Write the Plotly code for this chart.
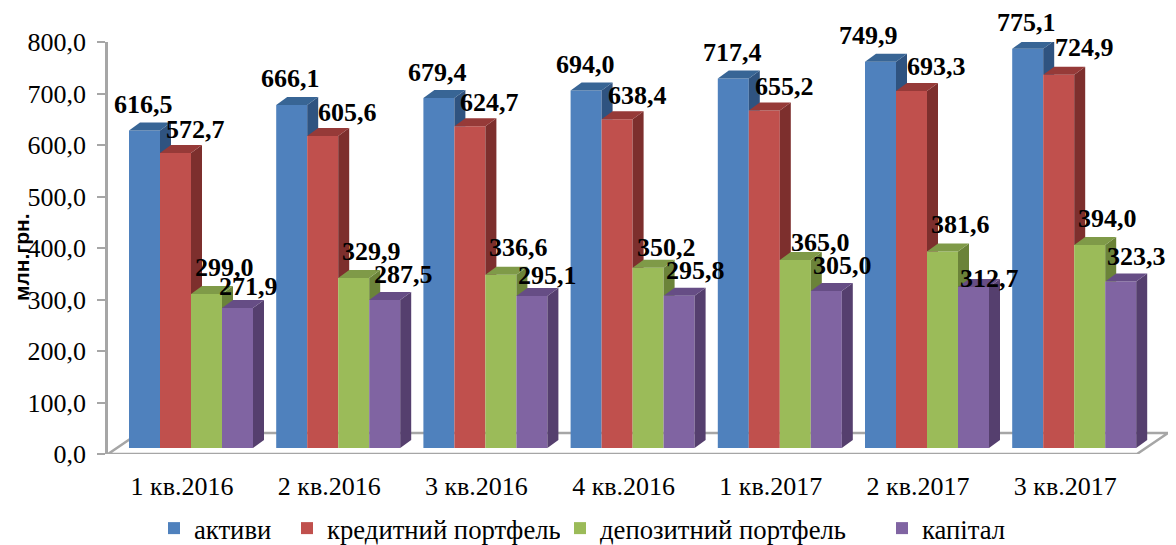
import plotly.graph_objects as go

categories = ["1 кв.2016", "2 кв.2016", "3 кв.2016", "4 кв.2016", "1 кв.2017", "2 кв.2017", "3 кв.2017"]
aktyvy = [616.5, 666.1, 679.4, 694.0, 717.4, 749.9, 775.1]
kredyt = [572.7, 605.6, 624.7, 638.4, 655.2, 693.3, 724.9]
depozyt = [299.0, 329.9, 336.6, 350.2, 365.0, 381.6, 394.0]
kapital = [271.9, 287.5, 295.1, 295.8, 305.0, 312.7, 323.3]
y_ticks = [0, 100, 200, 300, 400, 500, 600, 700, 800]

names = ["активи", "кредитний портфель", "депозитний портфель", "капітал"]
all_values = [aktyvy, kredyt, depozyt, kapital]
front = ["#4f81bd", "#c0504d", "#9bbb59", "#8064a2"]
side = ["#2f5380", "#7d2f2d", "#6b8339", "#553f6e"]
top = ["#386595", "#963a38", "#7f9a48", "#664d85"]

# page body has an 8px margin in the browser
PAGE = 8
W, H = 1176 - PAGE, 545 - PAGE
L, R, T, B = 108 - PAGE, 1168 - PAGE, 42 - PAGE, 454 - PAGE
PX_X = 147.2
PX_Y = (B - T) / 800
x0 = -(191 - PAGE - L) / PX_X
x1 = (R - (191 - PAGE)) / PX_X
BW = 31 / PX_X
BASE = 6 / PX_Y
DX = 11 / PX_X
DY = 8 / PX_Y
FX = 31 / PX_X   # floor depth x
FY = 21 / PX_Y   # floor depth y
label_dx = [-1, 20, 18, 16]
label_dy = [-26, -24, -27, -25]
# individual label nudges in pixels, (series, category): (right, down)
nudges = {(0, 5): (-11, 0), (1, 1): (5, 0), (1, 5): (5, 0), (1, 6): (6, -3), (2, 3): (0, 7),
          (2, 4): (7, 9), (3, 0): (-5, 4), (3, 1): (3, 0), (3, 2): (0, 4), (3, 5): (0, 17)}
legend_text_px = [194, 327, 600, 922]

fig = go.Figure()
legend_ids = ["legend", "legend2", "legend3", "legend4"]
for s, vals in enumerate(all_values):
    fig.add_trace(go.Bar(x=list(range(7)), y=vals, base=BASE, name=names[s], legend=legend_ids[s],
                         marker=dict(color=front[s], line=dict(width=0))))

for s, vals in enumerate(all_values):
    sx, sy, tx, ty = [], [], [], []
    for i, v in enumerate(vals):
        l = i - 2 * BW + s * BW
        r = l + BW
        t = v + BASE
        low = all_values[s + 1][i] + BASE if s < 3 else BASE
        sx += [r, r + DX, r + DX, r, r, None]
        sy += [t, t + DY, low + DY if s == 3 else low, low, t, None]
        tx += [l, l + DX, r + DX, r, l, None]
        ty += [t, t + DY, t + DY, t, t, None]
    fig.add_trace(go.Scatter(x=sx, y=sy, mode="none", fill="toself", fillcolor=side[s],
                             showlegend=False, hoverinfo="skip"))
    fig.add_trace(go.Scatter(x=tx, y=ty, mode="none", fill="toself", fillcolor=top[s],
                             showlegend=False, hoverinfo="skip"))

for s, vals in enumerate(all_values):
    for i, v in enumerate(vals):
        nx, ny = nudges.get((s, i), (0, 0))
        xv = i - 2 * BW + (s + 0.5) * BW + (label_dx[s] + nx) / PX_X
        yv = v + BASE - (label_dy[s] + ny) / PX_Y
        # paper coordinates, since labels may rise above the top of the axis range
        fig.add_annotation(
            x=(xv - x0) / (x1 - x0), y=yv / 800,
            xref="paper", yref="paper", showarrow=False, xanchor="center", yanchor="middle",
            text="<b>" + f"{v:.1f}".replace(".", ",") + "</b>",
            font=dict(family="Liberation Serif", size=26, color="black"))

# axis title, placed freely as in the reference
fig.add_annotation(
    x=(21 - PAGE - L) / (R - L), y=(B - (257 - PAGE)) / (B - T),
    xref="paper", yref="paper", showarrow=False, textangle=-90,
    xanchor="center", yanchor="middle", text="<b>млн.грн.</b>",
    font=dict(family="Liberation Sans", size=21, color="black"))

GR = "#a6a6a6"
fig.add_shape(type="path", layer="below", xref="x", yref="y",
              path=f"M {x0} 0 L {x1 - FX} 0 L {x1} {FY} L {x0 + FX} {FY} Z",
              line=dict(color=GR, width=2.5), fillcolor="white")

legends = {}
for s, lid in enumerate(legend_ids):
    legends[lid] = dict(orientation="h", x=(legend_text_px[s] - 40 - PAGE - L) / (R - L),
                        xanchor="left", y=-0.122, yanchor="top", font=dict(size=26.7))

fig.update_layout(
    width=W, height=H,
    margin=dict(l=L, r=W - R, t=T, b=H - B, autoexpand=False),
    paper_bgcolor="white", plot_bgcolor="white",
    barmode="group", bargap=1 - 4 * BW, bargroupgap=0,
    font=dict(family="Liberation Serif", color="black"),
    showlegend=True,
    xaxis=dict(range=[x0, x1], tickmode="array", tickvals=[i - 9 / PX_X for i in range(7)],
               ticktext=categories, showgrid=False, zeroline=False, showline=False, ticks="",
               tickfont=dict(size=26), ticklabelstandoff=14),
    yaxis=dict(range=[0, 800], tickmode="array", tickvals=y_ticks,
               ticktext=[f"{v:.1f}".replace(".", ",") for v in y_ticks],
               showgrid=False, zeroline=False, showline=True, linecolor=GR, linewidth=2.5,
               ticks="outside", ticklen=8, tickwidth=2, tickcolor=GR, tickfont=dict(size=26),
               ticklabelstandoff=6),
    **legends,
)
fig.write_html("out.html")
